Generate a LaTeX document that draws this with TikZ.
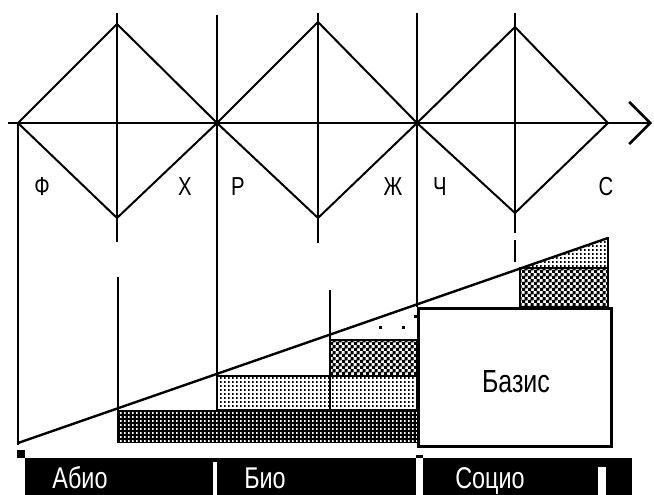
\documentclass[tikz,border=0pt]{standalone}
\usepackage{fontspec}
\setmainfont{Liberation Sans}
\usetikzlibrary{arrows.meta,patterns}
\newcommand{\slim}[1]{\scalebox{0.78}[1]{#1}}
\pgfdeclarepatternformonly{finechecker}{\pgfqpoint{0pt}{0pt}}{\pgfqpoint{6pt}{6pt}}{\pgfqpoint{6pt}{6pt}}{%
  \pgfpathrectangle{\pgfqpoint{0pt}{0pt}}{\pgfqpoint{3.6pt}{3.6pt}}%
  \pgfpathrectangle{\pgfqpoint{3pt}{3pt}}{\pgfqpoint{3.6pt}{3.6pt}}%
  \pgfusepath{fill}}
\pgfdeclarepatternformonly{pixdots}{\pgfqpoint{0pt}{0pt}}{\pgfqpoint{4pt}{3.5pt}}{\pgfqpoint{4pt}{3.5pt}}{%
  \pgfpathrectangle{\pgfqpoint{0pt}{0pt}}{\pgfqpoint{2pt}{2pt}}%
  \pgfusepath{fill}}

\begin{document}
\begin{tikzpicture}[x=1pt,y=-1pt,
      post/.style={line width=2.6pt},
      rib/.style={line width=2pt},
      darkband/.style={fill=black},
      lightband/.style={draw,line width=2pt,pattern=pixdots},
      checkband/.style={draw,line width=2pt,pattern=finechecker},
      basisbox/.style={draw,line width=2.6pt,anchor=north west,minimum width=193pt,minimum height=138pt,inner sep=0pt},
      lbl/.style={font=\fontsize{26}{26}\selectfont,inner sep=0pt,anchor=base},
      barlbl/.style={font=\fontsize{30}{30}\selectfont,text=white,inner sep=0pt,anchor=base}
    ]
    \useasboundingbox (0,0) rectangle (654,495);

    % staircase bands
    \fill[darkband] (118,410) rectangle (417,443);
    \fill[pattern=pixdots,pattern color=white] (118,412) rectangle (417,443);
    \path[lightband] (217,376) rectangle (417,410);
    \path[checkband] (330,340) rectangle (417,376);
    \path[checkband] (520,268) rectangle (608,307);
    \fill[pattern=pixdots] (520,268) -- (608,238) -- (608,268) -- cycle;
    \foreach \dx/\dy in {380/327,403/327,415/316}
      \fill (\dx-1.5,\dy-1.5) rectangle (\dx+1.5,\dy+1.5);

    \node[basisbox] (basis) at (417,307) {};
    \node[font=\fontsize{32}{32}\selectfont,inner sep=0pt,anchor=base] (basistxt) at (516,392) {\slim{Базис}};

    % axis and diamonds
    \coordinate (ax0) at (8,123);
    \coordinate (ax1) at (652,123);
    \draw[post,-{Straight Barb[length=21pt,width=42pt]}] (ax0) -- (ax1);
    \foreach \l/\c/\r/\t/\b [count=\i] in {18/117/217/24/218,217/318/417/22/218,417/515/608/27/213} {
      \coordinate (w\i) at (\l,123);
      \coordinate (n\i) at (\c,\t);
      \coordinate (e\i) at (\r,123);
      \coordinate (s\i) at (\c,\b);
      \draw[rib,line join=round] (w\i) -- (n\i) -- (e\i) -- (s\i) -- cycle;
    }

    % verticals
    \draw[post] (18,123) -- (18,445);
    \draw[post] (117,13) -- (117,242);
    \draw[post] (118,277) -- (118,443);
    \draw[post] (217,15) -- (217,376);
    \draw[post] (318,13) -- (318,243);
    \draw[post] (330,290) -- (330,410);
    \draw[post] (417,13) -- (417,307);
    \draw[post] (515,13) -- (515,233);
    \draw[post] (515,240) -- (515,262);
    \draw[post] (608,237) -- (608,307);
    \draw[line width=2.4pt] (18,443) -- (608,238);

    % letters
    \foreach \px/\ch [count=\k] in {42/Ф,185/Х,238/Р,393/Ж,440/Ч,606/С}
      \node[lbl] (l\k) at (\px,195) {\slim{\ch}};

    % bottom bar
    \fill (25,458) rectangle (632,495);
    \fill (17,450) rectangle (25,458);
    \fill (416,455) rectangle (423,458);
    \fill[white] (213,462) rectangle (217,495);
    \fill[white] (416,458) rectangle (423,495);
    \fill[white] (598,467) rectangle (606,495);
    \node[barlbl] (abio) at (80,488) {\slim{Абио}};
    \node[barlbl] (bio) at (265,488) {\slim{Био}};
    \node[barlbl] (socio) at (490,488) {\slim{Социо}};
  \end{tikzpicture}
\end{document}
